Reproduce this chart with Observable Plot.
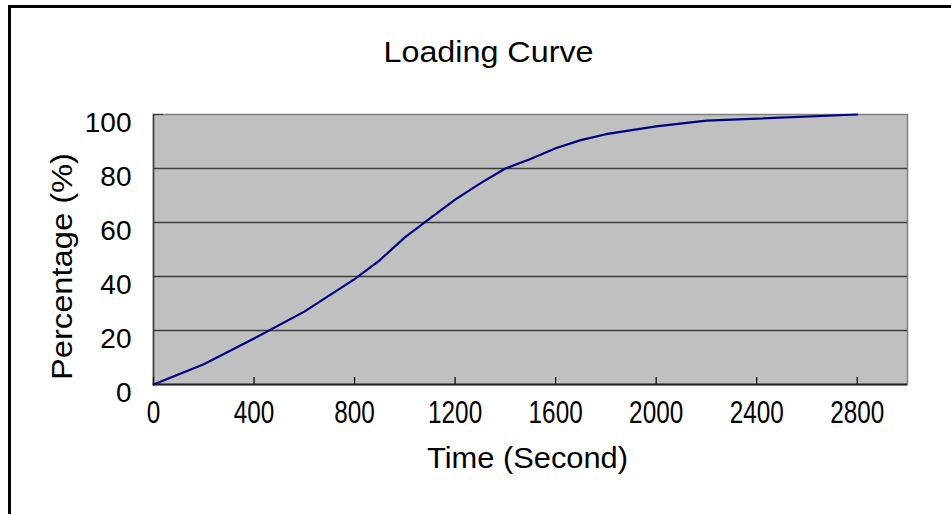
<!DOCTYPE html>
<html>
<head>
<meta charset="utf-8">
<script src="https://cdn.jsdelivr.net/npm/d3@7"></script>
<script src="https://cdn.jsdelivr.net/npm/@observablehq/plot@0.6"></script>
<style>
  html, body { margin: 0; padding: 0; background: #fff; }
  #wrap { position: relative; width: 951px; height: 514px; overflow: hidden; }
  #border { position: absolute; left: 8px; top: 5px; right: -10px; bottom: -10px;
            border-top: 3px solid #000; border-left: 3px solid #000; pointer-events: none; }
</style>
</head>
<body>
<div id="wrap"><div id="border"></div></div>
<script>
const times = [0, 200, 400, 600, 800, 900, 1000, 1100, 1200, 1300, 1400, 1500, 1600, 1700, 1800, 2000, 2200, 2800];
const percents = [0, 7.5, 17, 27, 39, 46, 54.5, 61.5, 68.5, 74.5, 80, 83.5, 87.5, 90.5, 92.7, 95.6, 97.7, 100];
const xTicks = [0, 400, 800, 1200, 1600, 2000, 2400, 2800];
const yTicks = [0, 20, 40, 60, 80, 100];
const gridValues = [20, 40, 60, 80];
const titleText = "Loading Curve";
const xTitle = "Time (Second)";
const yTitle = "Percentage (%)";

const data = times.map((t, i) => ({t, p: percents[i]}));
const sans = "'Liberation Sans', Arial, sans-serif";

const chart = Plot.plot({
  width: 951,
  height: 514,
  marginLeft: 153,
  marginRight: 44,
  marginTop: 114,
  marginBottom: 130,
  x: {domain: [0, 3000], axis: null},
  y: {domain: [0, 100], axis: null},
  style: {background: "transparent", overflow: "visible"},
  marks: [
    Plot.frame({fill: "#c0c0c0", stroke: "#808080", strokeWidth: 1.5}),
    Plot.ruleY(gridValues, {stroke: "#3c3c3c", strokeWidth: 1.3}),
    Plot.ruleX([0], {stroke: "#3c3c3c", strokeWidth: 1.5}),
    Plot.ruleX(xTicks, {y1: 0, y2: 2.6, stroke: "#000", strokeWidth: 1.2}),
    Plot.ruleY([100], {x1: 0, x2: 40, stroke: "#3c3c3c", strokeWidth: 1.2}),
    Plot.ruleY([0], {stroke: "#222", strokeWidth: 2}),
    Plot.line(data, {x: "t", y: "p", stroke: "#000080", strokeWidth: 2.2}),
    Plot.text(yTicks, {y: d => d, frameAnchor: "left", dx: -22, dy: 9, textAnchor: "end", lineAnchor: "middle",
      text: d => String(d), fontSize: 28, fontFamily: sans, fill: "#000"}),
    Plot.text(xTicks, {x: d => d, frameAnchor: "bottom", dy: 28, lineAnchor: "middle", textAnchor: "middle",
      text: d => String(d), fontSize: 32, fontFamily: sans, fill: "#000"}),
    Plot.text([xTitle], {frameAnchor: "bottom", dx: -3, dy: 74, lineAnchor: "middle", textAnchor: "middle",
      text: d => d, fontSize: 30, fontFamily: sans, fill: "#000"}),
    Plot.text([yTitle], {frameAnchor: "left", dx: -91, dy: 17, rotate: -90, lineAnchor: "middle", textAnchor: "middle",
      text: d => d, fontSize: 29, fontFamily: sans, fill: "#000"}),
    Plot.text([titleText], {frameAnchor: "top", dx: -42, dy: -62, lineAnchor: "middle", textAnchor: "middle",
      text: d => d, fontSize: 29, fontFamily: sans, fill: "#000"})
  ]
});
document.getElementById("wrap").insertBefore(chart, document.getElementById("border"));

// narrow, tall lettering like the original chart
const groups = d3.select(chart).selectAll("g[aria-label='text']").nodes();
function squeeze(g, factor, fixed) {
  if (!g) return;
  d3.select(g).selectAll("text").each(function() {
    const w = this.getComputedTextLength();
    const len = fixed != null ? fixed : w * factor;
    this.setAttribute("textLength", len);
    this.setAttribute("lengthAdjust", "spacingAndGlyphs");
  });
}
squeeze(groups[1], 0.76);
squeeze(groups[2], 0, 201);
squeeze(groups[3], 0, 227);
squeeze(groups[4], 0, 210);
</script>
</body>
</html>
